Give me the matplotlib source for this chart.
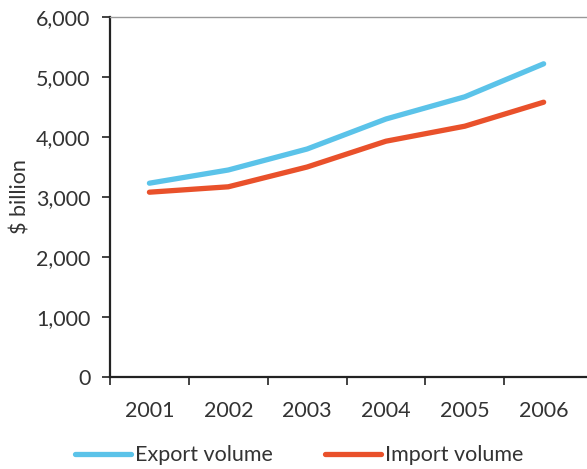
import matplotlib
matplotlib.use("Agg")
import matplotlib.pyplot as plt
import numpy as np

years = ["2001", "2002", "2003", "2004", "2005", "2006"]
export_volume = [3230, 3450, 3800, 4300, 4670, 5220]
import_volume = [3080, 3170, 3500, 3930, 4180, 4580]
yticks = [0, 1000, 2000, 3000, 4000, 5000, 6000]

plt.rcParams['font.family'] = ['Lato', 'DejaVu Sans']
text_color = '#333333'
fs = 15.5

fig = plt.figure(figsize=(5.87, 4.69), dpi=100)
ax = fig.add_axes([110/587, 1-377/469, 1-110/587, (377-17)/469])

x = np.arange(len(years)) + 0.5
ax.plot(x, export_volume, color='#5BC3E9', lw=3.8, solid_capstyle='round', label='Export volume')
ax.plot(x, import_volume, color='#E9512B', lw=3.8, solid_capstyle='round', label='Import volume')

ax.set_xlim(0, 6.05)
ax.set_ylim(0, 6000)
ax.set_yticks(yticks)
ax.set_yticklabels([f"{v:,}" for v in yticks], fontsize=fs, color=text_color)
ax.set_xticks(np.arange(len(years)))
ax.set_xticklabels([])
ax.set_xticks(x, minor=True)
ax.set_xticklabels(years, minor=True, fontsize=fs, color=text_color)
ax.tick_params(axis='x', which='minor', length=0, pad=17)
ax.tick_params(axis='x', which='major', length=6, width=1.2, color='#222222', direction='out')
ax.tick_params(axis='y', length=6, width=1.2, color='#222222', pad=8)

for s in ['left', 'bottom']:
    ax.spines[s].set_color('#222222')
    ax.spines[s].set_linewidth(1.6)
ax.spines['right'].set_visible(False)
ax.spines['top'].set_color('#999999')
ax.spines['top'].set_linewidth(1.0)

ax.set_ylabel('$ billion', fontsize=fs, color=text_color, labelpad=4)

leg = ax.legend(loc='center left', bbox_to_anchor=(-0.073, -0.217), ncol=2, frameon=False,
                fontsize=fs, handlelength=2.6, handletextpad=0.2, columnspacing=2.4,
                borderaxespad=0, borderpad=0)
for t in leg.get_texts():
    t.set_color(text_color)

fig.savefig('out.png', dpi=100)
